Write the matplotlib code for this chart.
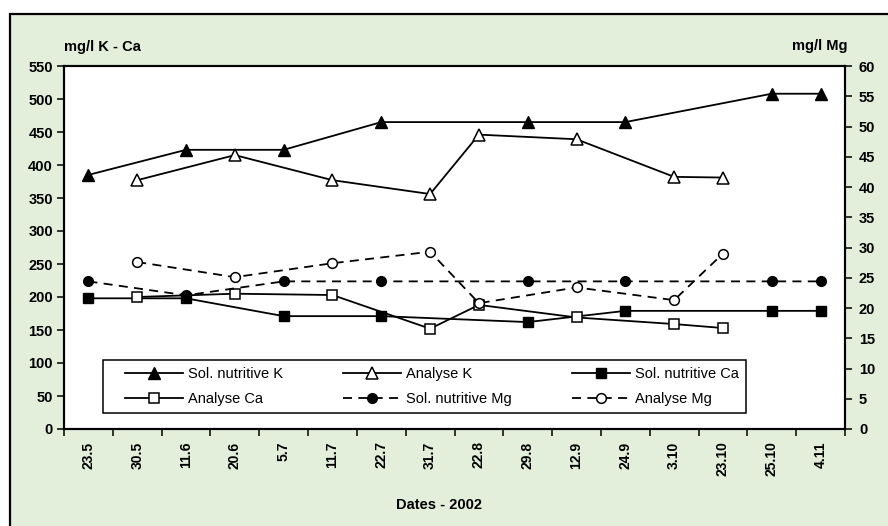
import matplotlib
matplotlib.use("Agg")
import matplotlib.pyplot as plt
from matplotlib.patches import Rectangle
from matplotlib.ticker import FixedLocator, MultipleLocator
from matplotlib.legend_handler import HandlerLine2D

plt.rcParams['font.family'] = ['Liberation Sans', 'DejaVu Sans']

# ---- data ----
dates = ['23.5', '30.5', '11.6', '20.6', '5.7', '11.7', '22.7', '31.7',
         '22.8', '29.8', '12.9', '24.9', '3.10', '23.10', '25.10', '4.11']

# K and Ca (mg/l, left axis) -- None = no measure that day
sol_k = [385, None, 423, None, 423, None, 465, None,
         None, 465, None, 465, None, None, 508, 508]
analyse_k = [None, 377, None, 415, None, 377, None, 356,
             446, None, 439, None, 382, 381, None, None]
sol_ca = [198, None, 198, None, 171, None, 171, None,
          None, 162, None, 179, None, None, 179, 179]
analyse_ca = [None, 200, None, 205, None, 203, None, 152,
              188, None, 169, None, 159, 153, None, None]

# Mg (mg/l, right axis)
sol_mg = [24.4, None, 22.1, None, 24.4, None, 24.4, None,
          None, 24.4, None, 24.4, None, None, 24.4, 24.4]
analyse_mg = [None, 27.6, None, 25.1, None, 27.4, None, 29.3,
              20.8, None, 23.4, None, 21.3, 29.0, None, None]


def pts(vals):
    xs = [i for i, v in enumerate(vals) if v is not None]
    ys = [v for v in vals if v is not None]
    return xs, ys


bg = '#E3EEDB'
fig = plt.figure(figsize=(8.88, 5.26), dpi=100, facecolor='white')

# outer chart frame (runs past right / bottom edge like the source)
frame = Rectangle((10 / 888, -0.05), 1.0, (526 - 14) / 526 + 0.05,
                  transform=fig.transFigure, facecolor=bg, edgecolor='black',
                  linewidth=1.6, zorder=-10)
fig.patches.append(frame)

ax = fig.add_axes([64 / 888, (526 - 429) / 526, 781 / 888, 363 / 526])
ax.set_facecolor('white')
ax2 = ax.twinx()

lw = 1.3
h1, = ax.plot(*pts(sol_k), '-', color='black', lw=lw, marker='^', ms=8,
              mfc='black', mec='black', label='Sol. nutritive K')
h2, = ax.plot(*pts(analyse_k), '-', color='black', lw=lw, marker='^', ms=8,
              mfc='white', mec='black', mew=1.1, label='Analyse K')
h3, = ax.plot(*pts(sol_ca), '-', color='black', lw=lw, marker='s', ms=7.5,
              mfc='black', mec='black', label='Sol. nutritive Ca')
h4, = ax.plot(*pts(analyse_ca), '-', color='black', lw=lw, marker='s', ms=7.5,
              mfc='white', mec='black', mew=1.1, label='Analyse Ca')
h5, = ax2.plot(*pts(sol_mg), '--', color='black', lw=lw, marker='o', ms=7,
               mfc='black', mec='black', dashes=(5, 3.5), label='Sol. nutritive Mg')
h6, = ax2.plot(*pts(analyse_mg), '--', color='black', lw=lw, marker='o', ms=7,
               mfc='white', mec='black', mew=1.1, dashes=(5, 3.5), label='Analyse Mg')

ax.set_xlim(-0.5, len(dates) - 0.5)
ax.set_ylim(0, 550)
ax2.set_ylim(0, 60)

ax.yaxis.set_major_locator(MultipleLocator(50))
ax2.yaxis.set_major_locator(MultipleLocator(5))

ax.set_xticks(range(len(dates)))
ax.set_xticklabels(dates, rotation=90, fontweight='bold', fontsize=10)
ax.xaxis.set_minor_locator(FixedLocator([i - 0.5 for i in range(len(dates) + 1)]))
ax.tick_params(axis='x', which='major', length=0, pad=9)
ax.tick_params(axis='x', which='minor', length=5, width=1.1, direction='out')
ax.tick_params(axis='y', length=5, width=1.1, direction='out', pad=3, labelsize=10.5)
ax2.tick_params(axis='y', length=5, width=1.1, direction='out', pad=5, labelsize=10.5)
for lab in ax.get_yticklabels() + ax2.get_yticklabels():
    lab.set_fontweight('bold')

for a in (ax, ax2):
    for s in a.spines.values():
        s.set_linewidth(1.5)

handles = [h1, h4, h2, h5, h3, h6]  # row-wise order in a 3-column legend
hmap = {h: HandlerLine2D(xpad=1.0) for h in handles}
leg = ax2.legend(handles=handles, handler_map=hmap, ncol=3, loc='lower left',
                 bbox_to_anchor=(0.050, 0.044, 0.823, 0.157), mode='expand',
                 fontsize=10.5, frameon=True, fancybox=False, edgecolor='black',
                 framealpha=1, handlelength=5.0, handletextpad=0.3,
                 labelspacing=0.75, borderpad=0.5, borderaxespad=0)
leg.get_frame().set_linewidth(1.1)

fig.text(64 / 888, 1 - 47 / 526, 'mg/l K - Ca', fontweight='bold', fontsize=10.5,
         ha='left', va='center')
fig.text(847 / 888, 1 - 46 / 526, 'mg/l Mg', fontweight='bold', fontsize=10.5,
         ha='right', va='center')
fig.text(439 / 888, 1 - 505 / 526, 'Dates - 2002', fontweight='bold', fontsize=10.5,
         ha='center', va='center')

fig.savefig('out.png', dpi=100, facecolor=fig.get_facecolor())
